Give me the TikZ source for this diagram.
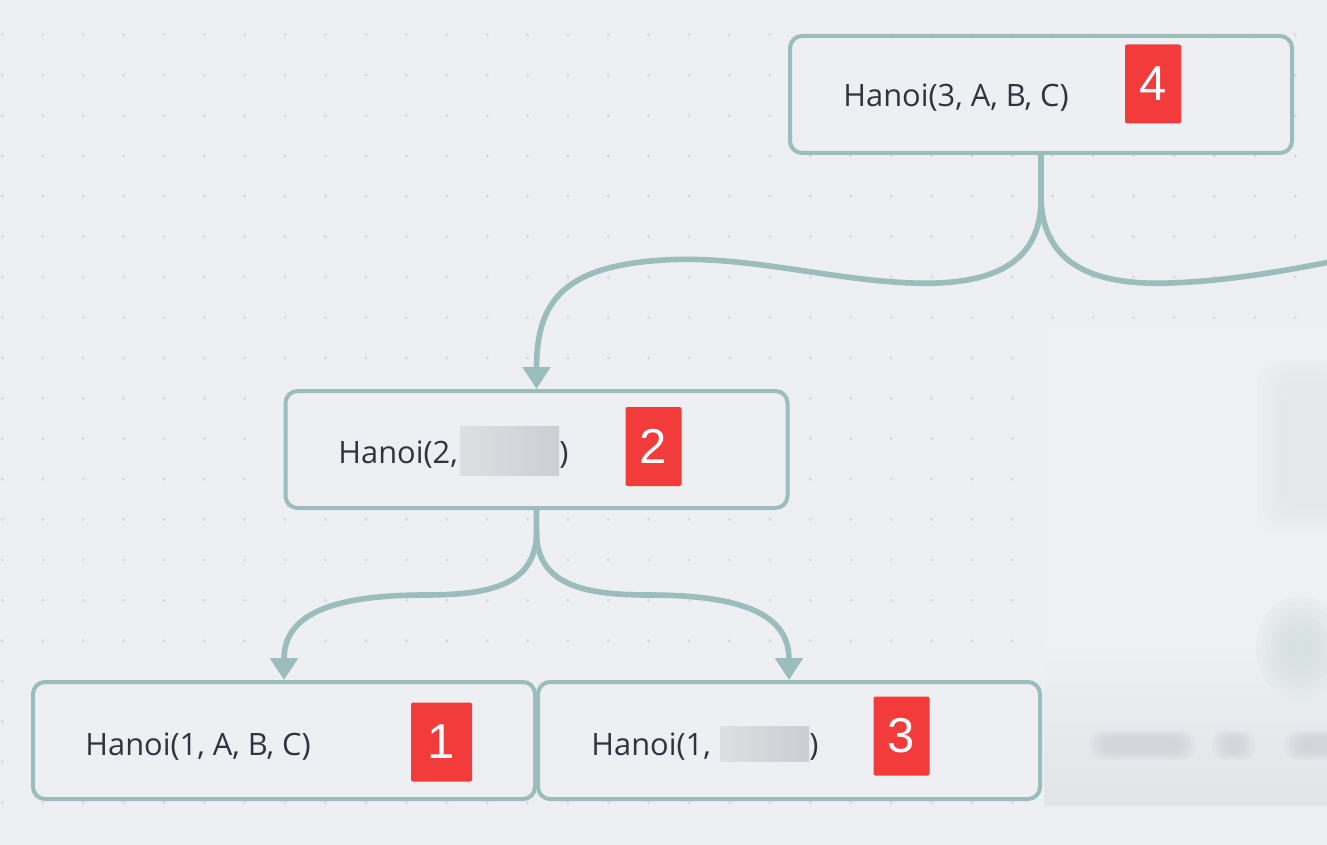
\documentclass[tikz,border=0pt]{standalone}
\usepackage{fontspec}
\setmainfont{Open Sans}
\newfontfamily\digitfont{Liberation Sans}
\usepackage{tikz}
\usetikzlibrary{arrows.meta,positioning}
\definecolor{canvas}{HTML}{EDEFF3}
\definecolor{panel}{HTML}{EEF0F3}
\definecolor{gridc}{HTML}{D5D8E1}
\definecolor{edge}{HTML}{9BBDBB}
\definecolor{ink}{HTML}{30343E}
\definecolor{badgered}{HTML}{F23B3B}
\definecolor{maskl}{HTML}{DEDFE3}
\definecolor{maskr}{HTML}{CDCED3}
\definecolor{haze}{HTML}{E1E5E8}
\definecolor{hazeteal}{HTML}{CFDCDB}
\definecolor{hazegrey}{HTML}{CACCD3}
\tikzset{
  call/.style={draw=edge,line width=2pt,fill=canvas,rounded corners=6pt,
    minimum width=251pt,minimum height=58.5pt,inner sep=0pt},
  lbl/.style={anchor=base west,inner sep=0pt,text=ink,
    font=\fontsize{15.4pt}{18pt}\selectfont},
  badge/.style={fill=badgered,text=white,rounded corners=1pt,inner sep=0pt,
    minimum width=28pt,minimum height=39.5pt,
    font=\digitfont\fontsize{24.5pt}{28pt}\selectfont},
  mask/.style={left color=maskl,right color=maskr,inner sep=0pt},
  link/.style={draw=edge,line width=2.8pt,-{Triangle[width=13.5pt,length=11pt]}},
  trunk/.style={draw=edge,line width=2.8pt},
}

\begin{document}
\begin{tikzpicture}[x=0.5pt,y=-0.5pt]
  \useasboundingbox (0,0) rectangle (1327,845);
  \clip (0,0) rectangle (1327,845);
  \fill[canvas] (0,0) rectangle (1327,845);
  % dotted grid
  \foreach \i in {0,...,32}
    \foreach \j in {0,...,19}
      \fill[gridc] (2.3+40.4*\i,34.7+40.4*\j) circle[radius=1.6];

  % blurred panel, right side
  \fill[panel] (1044,328) rectangle (1327,805);
  \shade[top color=panel,bottom color=haze] (1044,640) rectangle (1327,805);
  \foreach \k in {0,...,5}
    \fill[haze,opacity=0.12,rounded corners=10pt] (1258+5*\k,360+5*\k) rectangle (1340,532-5*\k);
  \foreach \k in {0,...,7}
    \fill[hazeteal,opacity=0.12] (1300,648) ellipse[x radius=44-5*\k,y radius=52-6*\k];
  \foreach \k in {0,...,4} {
    \fill[hazegrey,opacity=0.18,rounded corners=6pt] (1090+4*\k,730+2*\k) rectangle (1195-4*\k,760-2*\k);
    \fill[hazegrey,opacity=0.18,rounded corners=6pt] (1212+4*\k,730+2*\k) rectangle (1255-4*\k,760-2*\k);
    \fill[hazegrey,opacity=0.18,rounded corners=6pt] (1285+4*\k,730+2*\k) rectangle (1340,760-2*\k);
  }

  % calls
  \node[call] (h4) at (1041,94.5) {};
  \node[call] (h2) at (536.5,449.5) {};
  \node[call] (h1) at (284,740.5) {};
  \node[call] (h3) at (789,740.5) {};
  \coordinate (rim) at (1345,259);

  % links
  \draw[link] (h4.south) -- ++(0,42) coordinate (fork4)
    .. controls (1042,262) and (995,286) .. (912,283)
    .. controls (830,280) and (745,255) .. (664,260)
    .. controls (565,266) and (536.5,300) .. (h2.north);
  \draw[trunk] (fork4) .. controls (1042,262) and (1090,286) .. (1170,283)
    .. controls (1230,281) and (1290,270) .. (rim);
  \draw[link] (h2.south) -- ++(0,22) coordinate (fork2)
    .. controls (536.5,585) and (490,595) .. (425,595)
    .. controls (320,595) and (284,620) .. (h1.north);
  \draw[link] (fork2) .. controls (536.5,585) and (584,595) .. (649,595)
    .. controls (754,595) and (789,620) .. (h3.north);

  % labels
  \node[lbl] (t4) at (843,107) {Hanoi(3, A, B, C)};
  \node[lbl] (t2) at (338,463) {Hanoi(2,};
  \node[mask,minimum width=49.5pt,minimum height=24.5pt] (m2) at (509.5,450.5) {};
  \node[lbl] (c2) at (559,463) {)};
  \node[lbl] (t1) at (85,755) {Hanoi(1, A, B, C)};
  \node[lbl] (t3) at (591,755) {Hanoi(1,};
  \node[mask,minimum width=44.5pt,minimum height=17.5pt] (m3) at (764.5,743.5) {};
  \node[lbl] (c3) at (809,755) {)};

  % step numbers
  \node[badge] (n4) at (1153,84) {4};
  \node[badge] (n2) at (653.5,446.5) {2};
  \node[badge,minimum width=30.5pt] (n1) at (441.5,742) {1};
  \node[badge] (n3) at (901.5,736) {3};
\end{tikzpicture}
\end{document}
